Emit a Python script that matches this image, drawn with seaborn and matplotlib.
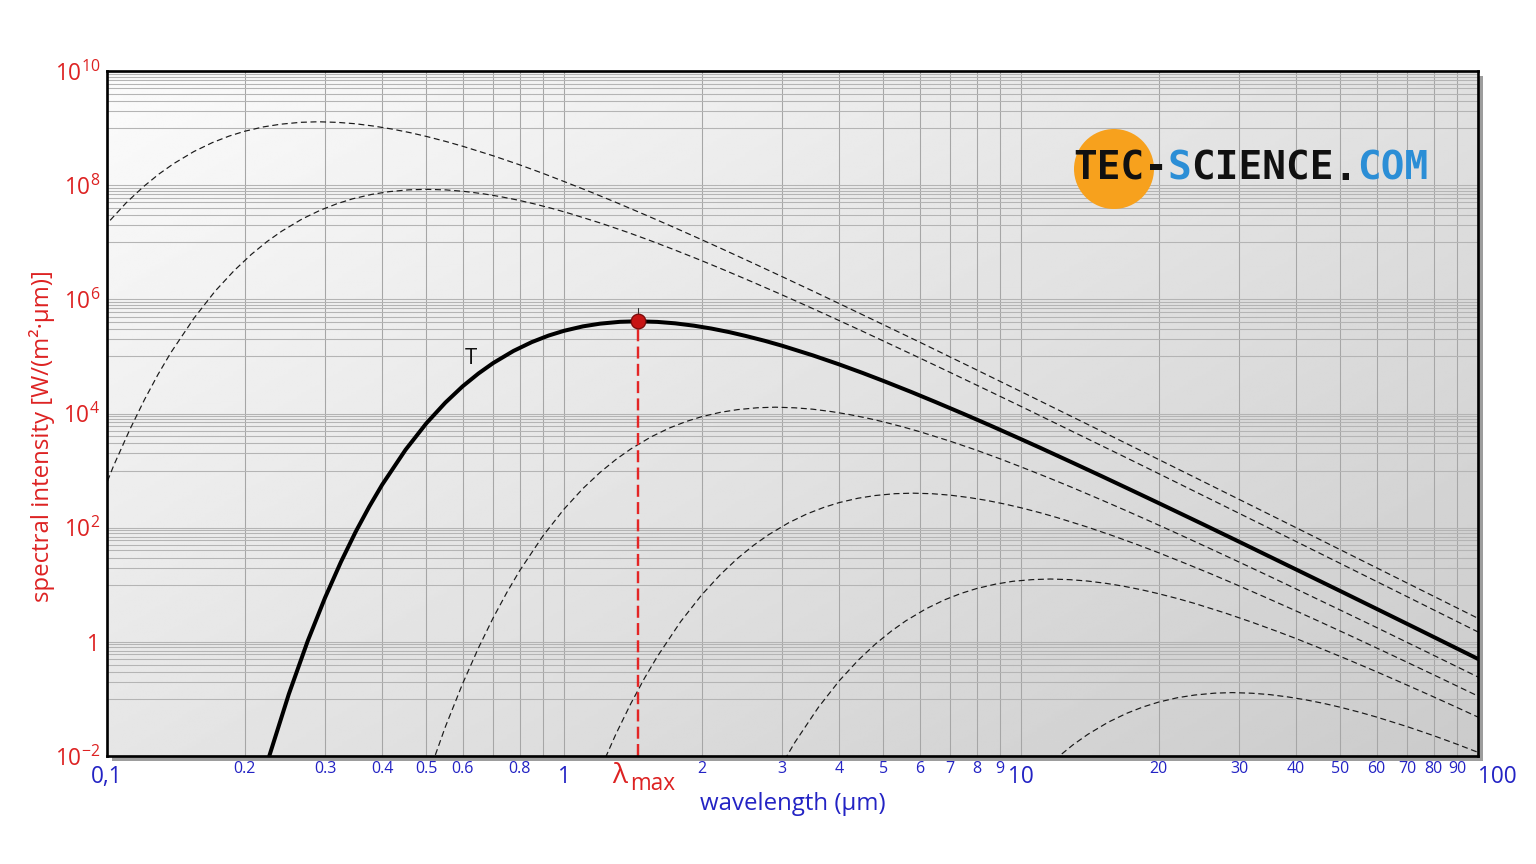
import numpy as np
import matplotlib
matplotlib.use("Agg")
import matplotlib.pyplot as plt
import seaborn as sns
from matplotlib.patches import Rectangle, Ellipse

# ---------------- data ----------------
# wavelength (µm) and spectral intensity W/(m²·µm) for each curve
lam_a = [0.09, 0.1, 0.11, 0.12, 0.13, 0.14, 0.155, 0.17, 0.185, 0.2, 0.22, 0.24, 0.265, 0.29,
         0.32, 0.35, 0.385, 0.42, 0.46, 0.5, 0.55, 0.6, 0.7, 0.8, 0.9, 1.0, 1.15, 1.3, 1.5,
         1.7, 1.95, 2.2, 2.6, 3.0, 3.5, 4.0, 5.0, 6.0, 8.0, 10, 12.5, 15, 20, 25, 40, 70, 100]
int_a = [7.23e6, 2.11e7, 4.85e7, 9.33e7, 1.573e8, 2.39e8, 3.89e8, 5.56e8, 7.24e8, 8.79e8,
         1.05e9, 1.17e9, 1.261e9, 1.29e9, 1.258e9, 1.19e9, 1.079e9, 9.63e8, 8.33e8, 7.14e8,
         5.86e8, 4.81e8, 3.27e8, 2.27e8, 1.606e8, 1.16e8, 7.46e7, 4.98e7, 3.06e7, 1.98e7,
         1.216e7, 7.87e6, 4.26e6, 2.50e6, 1.402e6, 8.44e5, 3.59e5, 1.78e5, 5.80e4, 2.42e4,
         1.005e4, 4.90e3, 1.568e3, 647, 99.8, 10.7, 2.58]

lam_b = [0.0862, 0.0948, 0.1034, 0.1121, 0.1207, 0.1293, 0.1379, 0.1552, 0.1724, 0.1897,
         0.2069, 0.2241, 0.2414, 0.2672, 0.2931, 0.3190, 0.3448, 0.3793, 0.4138, 0.4569, 0.5,
         0.5517, 0.6034, 0.6638, 0.7241, 0.7931, 0.8621, 0.9483, 1.034, 1.207, 1.379, 1.552,
         1.724, 1.983, 2.241, 2.586, 2.931, 3.362, 3.793, 4.483, 5.172, 6.034, 6.897, 8.621,
         10.34, 13.79, 17.24, 21.55, 25.86, 34.48, 43.10, 68.97, 120.7]
int_b = [25.0, 212, 1.22e3, 5.16e3, 1.73e4, 4.83e4, 1.16e5, 4.74e5, 1.39e6, 3.18e6, 6.12e6,
         1.032e7, 1.57e7, 2.553e7, 3.65e7, 4.75e7, 5.77e7, 6.89e7, 7.69e7, 8.28e7, 8.45e7,
         8.26e7, 7.79e7, 7.09e7, 6.32e7, 5.47e7, 4.69e7, 3.85e7, 3.16e7, 2.145e7, 1.49e7,
         1.054e7, 7.64e6, 4.90e6, 3.27e6, 2.009e6, 1.30e6, 7.98e5, 5.16e5, 2.797e5, 1.64e5,
         9.20e4, 5.54e4, 2.357e4, 1.17e4, 3.80e3, 1.59e3, 660, 321, 102.9, 42.5, 6.55, 0.704]

lam_main = [0.2, 0.225, 0.25, 0.275, 0.3, 0.325, 0.35, 0.375, 0.4, 0.45, 0.5, 0.55, 0.6, 0.65,
            0.7, 0.775, 0.85, 0.925, 1.0, 1.1, 1.2, 1.325, 1.45, 1.6, 1.75, 1.925, 2.1, 2.3,
            2.5, 2.75, 3.0, 3.5, 4.0, 4.5, 5.0, 5.75, 6.5, 7.5, 8.5, 9.75, 11, 13, 15, 17.5,
            20, 25, 30, 40, 50, 62.5, 75, 100]
int_main = [2.80e-4, 8.43e-3, 0.122, 1.04, 5.93, 25.1, 84.5, 235, 565, 2.31e3, 6.76e3,
            1.55e4, 2.99e4, 5.03e4, 7.66e4, 1.245e5, 1.78e5, 2.317e5, 2.81e5, 3.36e5, 3.75e5,
            4.035e5, 4.12e5, 4.025e5, 3.80e5, 3.454e5, 3.08e5, 2.664e5, 2.28e5, 1.876e5,
            1.54e5, 1.046e5, 7.25e4, 5.14e4, 3.72e4, 2.386e4, 1.59e4, 9.79e3, 6.34e3, 3.89e3,
            2.52e3, 1.363e3, 801, 448, 270, 115, 56.8, 18.5, 7.74, 3.22, 1.57, 0.502]

lam_c = [0.45, 0.5, 0.55, 0.6, 0.65, 0.7, 0.75, 0.8, 0.9, 1.0, 1.1, 1.2, 1.3, 1.4, 1.55, 1.7,
         1.85, 2.0, 2.2, 2.4, 2.65, 2.9, 3.2, 3.5, 3.85, 4.2, 4.6, 5.0, 5.5, 6.0, 7.0, 8.0,
         9.0, 10, 11.5, 13, 15, 17, 19.5, 22, 26, 30, 35, 40, 50, 60, 80, 100]
int_c = [2.64e-4, 3.81e-3, 3.24e-2, 0.185, 0.786, 2.64, 7.35, 17.7, 72.3, 211, 485, 933,
         1.573e3, 2.39e3, 3.89e3, 5.56e3, 7.24e3, 8.79e3, 1.05e4, 1.17e4, 1.261e4, 1.29e4,
         1.258e4, 1.19e4, 1.079e4, 9.63e3, 8.33e3, 7.14e3, 5.86e3, 4.81e3, 3.27e3, 2.27e3,
         1.606e3, 1.16e3, 746, 498, 306, 198, 121.6, 78.7, 42.6, 25.0, 14.02, 8.44, 3.59,
         1.78, 0.580, 0.242]

lam_d = [1.0, 1.1, 1.2, 1.3, 1.4, 1.5, 1.6, 1.8, 2.0, 2.2, 2.4, 2.6, 2.8, 3.1, 3.4, 3.7, 4.0,
         4.4, 4.8, 5.3, 5.8, 6.4, 7.0, 7.7, 8.4, 9.2, 10, 11, 12, 14, 16, 18, 20, 23, 26, 30,
         34, 39, 44, 52, 60, 70, 80, 100]
int_d = [1.19e-4, 1.012e-3, 5.79e-3, 2.457e-2, 8.26e-2, 0.230, 0.552, 2.26, 6.61, 15.15,
         29.2, 49.2, 74.8, 121.6, 174, 226, 275, 328, 366, 394, 402, 393, 371, 337, 301, 260,
         223, 183, 150, 102, 70.8, 50.2, 36.4, 23.3, 15.6, 9.57, 6.19, 3.80, 2.46, 1.332,
         0.782, 0.438, 0.264, 0.1122]

lam_e = [2.6, 2.8, 3.0, 3.2, 3.6, 4.0, 4.4, 4.8, 5.2, 5.6, 6.2, 6.8, 7.4, 8.0, 8.8, 9.6, 10.6,
         11.6, 12.8, 14, 15.4, 16.8, 18.4, 20, 22, 24, 28, 32, 36, 40, 46, 52, 60, 68, 78,
         88, 104]
int_e = [7.68e-4, 2.58e-3, 7.18e-3, 1.73e-2, 7.06e-2, 0.207, 0.474, 0.912, 1.536, 2.34, 3.80,
         5.43, 7.07, 8.59, 10.26, 11.5, 12.31, 12.6, 12.28, 11.6, 10.54, 9.40, 8.13, 6.97,
         5.73, 4.70, 3.19, 2.21, 1.568, 1.14, 0.728, 0.486, 0.299, 0.193, 0.1187, 7.68e-2,
         4.16e-2]

lam_f = [10, 11, 12, 13, 14, 15.5, 17, 18.5, 20, 22, 24, 26.5, 29, 32, 35, 38.5, 42, 46, 50,
         55, 60, 70, 80, 90, 100]
int_f = [2.11e-3, 4.85e-3, 9.33e-3, 1.573e-2, 2.39e-2, 3.89e-2, 5.56e-2, 7.24e-2, 8.79e-2,
         0.105, 0.117, 0.1261, 0.129, 0.1258, 0.119, 0.1079, 9.63e-2, 8.33e-2, 7.14e-2,
         5.86e-2, 4.81e-2, 3.27e-2, 2.27e-2, 1.606e-2, 1.16e-2]

# tick labels
x_ticks = [0.1, 0.2, 0.3, 0.4, 0.5, 0.6, 0.8, 1, 2, 3, 4, 5, 6, 7, 8, 9, 10,
           20, 30, 40, 50, 60, 70, 80, 90, 100]
x_labels = ["0,1", "0.2", "0.3", "0.4", "0.5", "0.6", "0.8", "1", "2", "3", "4", "5", "6",
            "7", "8", "9", "10", "20", "30", "40", "50", "60", "70", "80", "90", "100"]
x_big_labels = ["0,1", "1", "10", "100"]
y_ticks = [1e-2, 1, 1e2, 1e4, 1e6, 1e8, 1e10]
y_labels = [r"$\mathregular{10^{-2}}$", "1", r"$\mathregular{10^{2}}$",
            r"$\mathregular{10^{4}}$", r"$\mathregular{10^{6}}$",
            r"$\mathregular{10^{8}}$", r"$\mathregular{10^{10}}$"]

# ---------------- style ----------------
sns.set_style("white")
plt.rcParams["font.family"] = ["Open Sans", "DejaVu Sans"]
plt.rcParams["mathtext.fontset"] = "custom"
plt.rcParams["mathtext.rm"] = "Open Sans"
plt.rcParams["mathtext.it"] = "Open Sans:italic"
plt.rcParams["mathtext.bf"] = "Open Sans:bold"

RED = "#dd2222"
BLUE = "#2323c4"
W, H = 1536, 864
L, R, T_, B = 107, 1478, 71, 756

fig = plt.figure(figsize=(16, 9), dpi=96)
fig.patch.set_facecolor("white")
pos = [L / W, 1 - B / H, (R - L) / W, (B - T_) / H]

# frame shadow
fig.add_artist(Rectangle(((L + 5) / W, 1 - (B + 5) / H), (R - L) / W, (B - T_) / H,
                         transform=fig.transFigure, facecolor="#9d9d9d",
                         edgecolor="none", zorder=-3))
# gradient background
bg = fig.add_axes(pos, zorder=-2)
yy, xx = np.mgrid[0:1:300j, 0:1:300j]
grad = 0.985 - 0.19 * (0.55 * xx + 0.45 * yy)
bg.imshow(grad, cmap="gray", vmin=0, vmax=1, aspect="auto", extent=[0, 1, 0, 1],
          origin="upper", interpolation="bilinear")
bg.axis("off")

ax = fig.add_axes(pos)
ax.set_facecolor("none")
ax.set_xscale("log")
ax.set_yscale("log")

dash_kw = dict(color="#1a1a1a", linewidth=0.9, linestyle=(0, (5, 3)))
for lam, val in [(lam_a, int_a), (lam_b, int_b), (lam_c, int_c), (lam_d, int_d),
                 (lam_e, int_e), (lam_f, int_f)]:
    sns.lineplot(x=lam, y=val, ax=ax, estimator=None, sort=False, zorder=3, **dash_kw)

sns.lineplot(x=lam_main, y=int_main, ax=ax, estimator=None, sort=False,
             color="black", linewidth=3.0, zorder=4)

ax.set_xlim(0.1, 100)
ax.set_ylim(1e-2, 1e10)

# peak of the main curve
imax = int(np.argmax(int_main))
lam_max, val_max = lam_main[imax], int_main[imax]
ax.plot([lam_max, lam_max], [1e-2, val_max], color="#e32626", linewidth=1.8,
        linestyle=(0, (5, 2.2)), zorder=5)
ax.plot([lam_max, lam_max], [val_max, val_max * 1.7], color="#333333", linewidth=0.8,
        zorder=5)
ax.scatter([lam_max], [val_max], s=120, color="#c71515", edgecolor="#7a0b0b",
           linewidth=1.0, zorder=6)

# ticks
ax.set_xticks(x_ticks, labels=x_labels)
ax.set_xticks([0.7, 0.9], minor=True)
ax.set_yticks(y_ticks, labels=y_labels)
y_minor = [k * 10.0 ** e for e in [-1, 1, 3, 5, 7, 9] for k in range(1, 10)]
ax.set_yticks(y_minor, minor=True)
ax.tick_params(axis="x", which="both", length=0, pad=4, labelcolor=BLUE)
ax.tick_params(axis="y", which="both", length=0, pad=5, labelcolor=RED, labelsize=17)
ax.xaxis.set_minor_formatter(matplotlib.ticker.NullFormatter())
ax.yaxis.set_minor_formatter(matplotlib.ticker.NullFormatter())
for lbl in ax.get_xticklabels():
    if lbl.get_text() in x_big_labels:
        lbl.set_fontsize(17)
        lbl.set_y(-0.005)
    else:
        lbl.set_fontsize(12)
    if lbl.get_text() == "100":
        lbl.set_horizontalalignment("left")

ax.grid(which="both", axis="x", color="#a6a6a6", linewidth=0.8)
ax.grid(which="both", axis="y", color="#b4b4b4", linewidth=0.8)
ax.set_axisbelow(True)

for sp in ax.spines.values():
    sp.set_visible(True)
    sp.set_color("black")
    sp.set_linewidth(2.0)
    sp.set_zorder(7)

# lambda_max label
ax.annotate("λ", xy=(lam_max, 0), xycoords=("data", "axes fraction"),
            xytext=(-18, -27), textcoords="offset pixels", ha="center", va="baseline",
            color=RED, fontsize=21, annotation_clip=False)
ax.annotate("max", xy=(lam_max, 0), xycoords=("data", "axes fraction"),
            xytext=(15, -34), textcoords="offset pixels", ha="center", va="baseline",
            color=RED, fontsize=17, annotation_clip=False)

# curve label
ax.text(0.626, 9.3e4, "T", fontsize=16.5, color="#111111", ha="center", va="center",
        zorder=6)

# axis labels
ax.set_xlabel("wavelength (µm)", color=BLUE, fontsize=18)
ax.xaxis.set_label_coords(0.5, -0.053)
ax.set_ylabel("spectral intensity [W/(m²·µm)]", color=RED, fontsize=18)
ax.yaxis.set_label_coords(-0.038, 0.467)

# logo
fig.add_artist(Ellipse((1114 / W, 1 - 169 / H), 80 / W, 80 / H, transform=fig.transFigure,
                       facecolor="#f7a11d", edgecolor="none", zorder=8))
logo_parts = [("TEC-", "#111111"), ("S", "#2b8ed6"), ("CIENCE", "#111111"),
              (".", "#111111"), ("COM", "#2b8ed6")]
fs_logo = 29.5
cw = 0.602 * fs_logo * 96 / 72
xcur = 1073
for txt, col in logo_parts:
    fig.text(xcur / W, 1 - 169 / H, txt, family="DejaVu Sans Mono", fontweight="bold",
             fontsize=fs_logo, color=col, ha="left", va="center", zorder=9)
    xcur += cw * len(txt)

fig.savefig("out.png", dpi=96, facecolor="white")
